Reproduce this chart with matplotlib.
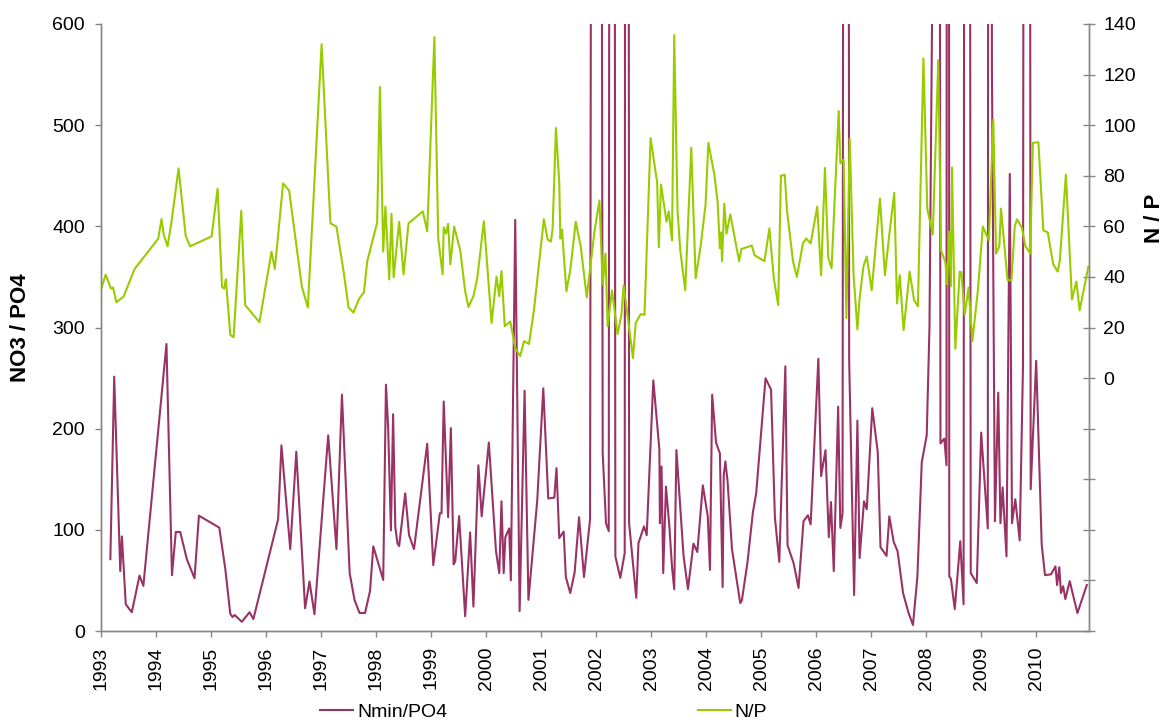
import matplotlib
matplotlib.use('Agg')
import matplotlib.pyplot as plt
from matplotlib.ticker import FixedLocator, FuncFormatter

plt.rcParams['font.family'] = ['Liberation Sans', 'DejaVu Sans']

# N/P ratio (right axis), decimal year
np_years = [1993.00, 1993.085, 1993.18, 1993.22, 1993.28, 1993.41, 1993.61, 1994.04, 1994.10, 1994.14,
            1994.21, 1994.28, 1994.41, 1994.54, 1994.62, 1995.01, 1995.12, 1995.20, 1995.24, 1995.27,
            1995.35, 1995.41, 1995.55, 1995.62, 1995.88, 1996.10, 1996.16, 1996.31, 1996.42, 1996.65,
            1996.76, 1997.01, 1997.17, 1997.28, 1997.41, 1997.50, 1997.59, 1997.69, 1997.78, 1997.84,
            1998.02, 1998.07, 1998.13, 1998.17, 1998.24, 1998.28, 1998.32, 1998.42, 1998.50, 1998.59,
            1998.85, 1998.93, 1999.06, 1999.13, 1999.21, 1999.23, 1999.27, 1999.31, 1999.35, 1999.42,
            1999.53, 1999.62, 1999.68, 1999.77, 1999.84, 1999.96, 2000.10, 2000.19, 2000.24, 2000.28,
            2000.34, 2000.44, 2000.53, 2000.62, 2000.69, 2000.78, 2000.87, 2001.05, 2001.12, 2001.18,
            2001.21, 2001.27, 2001.33, 2001.35, 2001.38, 2001.46, 2001.53, 2001.63, 2001.72, 2001.83,
            2001.97, 2002.06, 2002.12, 2002.17, 2002.21, 2002.29, 2002.39, 2002.46, 2002.50, 2002.56,
            2002.67, 2002.72, 2002.81, 2002.88, 2002.99, 2003.11, 2003.14, 2003.18, 2003.28, 2003.32,
            2003.38, 2003.42, 2003.48, 2003.53, 2003.62, 2003.73, 2003.81, 2003.90, 2003.99, 2004.04,
            2004.15, 2004.21, 2004.25, 2004.27, 2004.29, 2004.33, 2004.37, 2004.44, 2004.60, 2004.64,
            2004.83, 2004.88, 2005.06, 2005.15, 2005.23, 2005.31, 2005.36, 2005.43, 2005.47, 2005.58,
            2005.65, 2005.76, 2005.82, 2005.90, 2006.02, 2006.09, 2006.16, 2006.22, 2006.28, 2006.41,
            2006.44, 2006.50, 2006.55, 2006.61, 2006.68, 2006.75, 2006.79, 2006.86, 2006.92, 2007.01,
            2007.16, 2007.25, 2007.33, 2007.42, 2007.47, 2007.52, 2007.59, 2007.70, 2007.78, 2007.85,
            2007.95, 2008.02, 2008.12, 2008.22, 2008.27, 2008.35, 2008.38, 2008.42, 2008.45, 2008.47,
            2008.53, 2008.61, 2008.64, 2008.70, 2008.77, 2008.84, 2008.94, 2009.03, 2009.14, 2009.22,
            2009.27, 2009.33, 2009.36, 2009.48, 2009.55, 2009.61, 2009.65, 2009.74, 2009.80, 2009.89,
            2009.94, 2010.04, 2010.13, 2010.21, 2010.31, 2010.39, 2010.43, 2010.54, 2010.65, 2010.73,
            2010.79, 2010.95]
np_vals = [35.0, 40.9, 35.4, 35.8, 30.0, 32.2, 43.1, 55.1, 62.9, 56.8,
           52.1, 61.5, 82.9, 56.2, 52.1, 56.0, 74.9, 36.0, 35.4, 39.1,
           17.1, 16.1, 66.1, 28.9, 22.1, 50.0, 43.1, 77.0, 74.1, 36.3,
           27.9, 132.0, 61.2, 59.9, 42.1, 27.9, 25.9, 31.3, 33.9, 46.2,
           61.5, 115.1, 50.0, 67.8, 39.0, 65.0, 39.9, 61.8, 41.0, 61.2,
           65.9, 58.0, 134.8, 55.2, 41.0, 59.6, 57.1, 61.0, 45.0, 59.9,
           50.5, 34.3, 28.1, 32.4, 39.5, 62.0, 21.8, 40.1, 32.4, 42.3,
           20.5, 22.4, 11.9, 8.7, 14.6, 13.5, 26.8, 62.8, 54.7, 54.0,
           59.2, 98.9, 77.3, 55.2, 58.7, 34.3, 42.6, 61.8, 52.1, 31.9,
           58.0, 70.2, 37.1, 49.2, 20.5, 34.7, 17.4, 25.0, 36.6, 26.8,
           7.9, 21.8, 25.3, 25.0, 94.9, 77.3, 51.7, 76.5, 61.8, 65.9,
           54.4, 135.6, 66.2, 50.5, 34.7, 91.1, 39.5, 52.1, 68.6, 93.0,
           80.4, 69.4, 51.3, 57.6, 46.2, 68.9, 57.1, 64.7, 46.2, 51.0,
           52.4, 48.6, 46.2, 59.2, 39.5, 28.9, 80.0, 80.4, 66.2, 46.1,
           40.0, 53.3, 55.2, 53.2, 67.8, 40.6, 83.1, 47.6, 43.4, 105.6,
           85.0, 86.4, 23.7, 94.6, 41.0, 19.3, 31.6, 44.2, 48.1, 34.7,
           71.0, 40.7, 56.8, 73.3, 29.5, 40.7, 19.0, 42.1, 30.8, 28.4,
           126.4, 67.0, 56.8, 125.7, 50.5, 45.8, 37.1, 58.0, 36.3, 83.3,
           11.6, 42.1, 41.8, 25.0, 35.8, 14.6, 34.7, 59.9, 54.4, 102.2,
           49.2, 52.1, 67.0, 38.7, 38.7, 59.9, 62.8, 59.5, 52.4, 49.2,
           93.0, 93.3, 58.4, 57.6, 45.0, 42.1, 46.5, 80.4, 31.1, 38.2,
           26.8, 44.2]

# Nmin/PO4 ratio (left axis), decimal year; peaks above 600 run off the chart
nmin_years = [1993.17, 1993.24, 1993.35, 1993.38, 1993.45, 1993.56, 1993.70, 1993.77, 1994.19, 1994.29,
              1994.36, 1994.44, 1994.56, 1994.70, 1994.78, 1995.15, 1995.26, 1995.35, 1995.39, 1995.43,
              1995.56, 1995.70, 1995.77, 1996.22, 1996.28, 1996.44, 1996.55, 1996.71, 1996.79, 1996.88,
              1997.13, 1997.28, 1997.38, 1997.52, 1997.61, 1997.70, 1997.80, 1997.89, 1997.95, 1998.13,
              1998.18, 1998.22, 1998.27, 1998.31, 1998.35, 1998.39, 1998.42, 1998.53, 1998.60, 1998.69,
              1998.93, 1999.04, 1999.16, 1999.19, 1999.23, 1999.31, 1999.36, 1999.41, 1999.44, 1999.51,
              1999.62, 1999.71, 1999.77, 1999.86, 1999.92, 2000.05, 2000.18, 2000.24, 2000.28, 2000.32,
              2000.35, 2000.42, 2000.45, 2000.53, 2000.61, 2000.70, 2000.77, 2000.93, 2001.04, 2001.13,
              2001.24, 2001.28, 2001.33, 2001.41, 2001.45, 2001.53, 2001.61, 2001.69, 2001.78, 2001.89,
              2002.00, 2002.12, 2002.18, 2002.23, 2002.29, 2002.35, 2002.44, 2002.52, 2002.56, 2002.60,
              2002.73, 2002.77, 2002.87, 2002.92, 2003.04, 2003.15, 2003.16, 2003.19, 2003.22, 2003.27,
              2003.33, 2003.38, 2003.42, 2003.46, 2003.59, 2003.67, 2003.77, 2003.84, 2003.94, 2004.03,
              2004.07, 2004.11, 2004.18, 2004.25, 2004.30, 2004.32, 2004.35, 2004.39, 2004.47, 2004.62,
              2004.65, 2004.75, 2004.85, 2004.91, 2005.08, 2005.18, 2005.25, 2005.33, 2005.44, 2005.48,
              2005.59, 2005.68, 2005.77, 2005.85, 2005.90, 2006.04, 2006.09, 2006.17, 2006.23, 2006.27,
              2006.32, 2006.40, 2006.44, 2006.48, 2006.55, 2006.60, 2006.69, 2006.75, 2006.79, 2006.87,
              2006.92, 2007.02, 2007.12, 2007.17, 2007.28, 2007.33, 2007.41, 2007.48, 2007.58, 2007.68,
              2007.76, 2007.84, 2007.92, 2008.01, 2008.06, 2008.11, 2008.18, 2008.26, 2008.33, 2008.37,
              2008.395, 2008.42, 2008.45, 2008.52, 2008.62, 2008.68, 2008.74, 2008.81, 2008.92, 2009.00,
              2009.12, 2009.165, 2009.195, 2009.25, 2009.31, 2009.35, 2009.39, 2009.46, 2009.52, 2009.56,
              2009.62, 2009.70, 2009.76, 2009.83, 2009.90, 2010.00, 2010.10, 2010.16, 2010.27, 2010.35,
              2010.38, 2010.42, 2010.45, 2010.49, 2010.53, 2010.61, 2010.67, 2010.75, 2010.92]
nmin_vals = [71.0, 251.4, 59.2, 93.5, 26.4, 18.5, 54.8, 44.6, 283.7, 55.2,
             97.9, 97.9, 71.0, 52.1, 114.0, 102.2, 61.2, 17.0, 13.8, 15.8,
             9.1, 18.5, 11.8, 110.5, 183.5, 80.9, 177.2, 22.5, 48.9, 16.6,
             193.4, 80.9, 233.6, 57.2, 30.4, 17.8, 17.8, 39.5, 83.7, 50.5,
             243.5, 201.2, 99.4, 214.3, 102.6, 86.4, 84.0, 136.1, 94.7, 80.9,
             185.1, 65.1, 116.4, 116.4, 226.9, 112.5, 200.5, 65.9, 69.1, 113.6,
             14.6, 97.5, 24.1, 163.8, 113.3, 186.3, 78.9, 57.2, 128.2, 57.2,
             92.7, 101.4, 50.1, 406.4, 19.7, 237.5, 30.8, 129.0, 239.9, 131.0,
             131.8, 161.0, 91.9, 98.3, 53.3, 37.5, 58.0, 112.5, 53.3, 110.5,
             4000, 175.6, 106.5, 98.7, 4000, 73.8, 52.5, 77.0, 4000, 106.5,
             32.8, 86.8, 103.4, 94.7, 247.8, 179.5, 106.5, 162.6, 57.2, 142.8,
             104.6, 63.1, 41.4, 178.8, 73.8, 41.4, 86.4, 78.1, 144.0, 113.3,
             60.4, 233.6, 186.3, 175.6, 43.4, 153.9, 167.7, 148.0, 80.9, 27.6,
             30.4, 67.1, 117.2, 136.1, 249.8, 238.7, 112.5, 68.3, 261.6, 84.8,
             67.1, 42.6, 108.5, 114.4, 105.4, 269.1, 153.1, 178.8, 92.7, 127.5,
             59.2, 221.8, 101.8, 116.4, 4000, 268.0, 35.5, 208.0, 72.2, 128.2,
             120.4, 220.2, 176.8, 82.9, 74.2, 113.3, 88.0, 78.9, 37.5, 17.8,
             5.9, 53.3, 166.9, 193.4, 300.0, 620.0, 4000, 185.5, 190.2, 163.8,
             4000, 54.1, 51.3, 21.7, 88.8, 26.4, 4000, 57.2, 47.4, 196.1,
             101.4, 4000, 560.0, 108.5, 235.6, 106.5, 142.0, 73.8, 451.8, 106.5,
             130.2, 89.6, 262.0, 4000, 140.1, 267.1, 85.6, 55.2, 56.0, 63.9,
             45.4, 63.1, 37.5, 44.2, 31.6, 49.3, 35.5, 17.8, 45.4]

year_ticks = list(range(1993, 2011))
left_ticks = [0, 100, 200, 300, 400, 500, 600]
right_ticks = list(range(-100, 141, 20))

purple = '#993366'
green = '#99CC00'
spine_col = '#868686'

fig = plt.figure(figsize=(11.7, 7.22), dpi=100)
ax = fig.add_axes([101/1170, 1 - 631/722, 988/1170, 607/722])
ax2 = ax.twinx()

l1, = ax.plot(nmin_years, nmin_vals, color=purple, lw=1.5, label='Nmin/PO4')
l2, = ax2.plot(np_years, np_vals, color=green, lw=1.5, label='N/P')

ax.set_xlim(1993, 2010.96)
ax.set_ylim(0, 600)
ax2.set_ylim(-100, 140)

ax.set_xticks(year_ticks)
ax.set_xticklabels([str(y) for y in year_ticks], rotation=90, fontsize=14)
ax.set_yticks(left_ticks)
ax.set_yticklabels([str(v) for v in left_ticks], fontsize=14)
ax2.yaxis.set_major_locator(FixedLocator(right_ticks))
ax2.yaxis.set_major_formatter(FuncFormatter(lambda v, p: '' if v < 0 else '%d' % v))
ax2.tick_params(axis='y', labelsize=14, direction='inout', length=8.5, width=1, color=spine_col, pad=6)
ax.tick_params(axis='x', direction='out', length=4, width=1, color=spine_col, pad=7)
ax.tick_params(axis='y', direction='out', length=4.5, width=1, color=spine_col, pad=7)

for a in (ax, ax2):
    a.spines['top'].set_visible(False)
    for s in ('left', 'right', 'bottom'):
        a.spines[s].set_color(spine_col)
        a.spines[s].set_linewidth(1.0)

ax.set_ylabel('NO3 / PO4', fontsize=16, fontweight='bold')
ax.yaxis.set_label_coords(-0.071, 0.5)
ax2.set_ylabel('N / P', fontsize=16, fontweight='bold', rotation=90)
ax2.yaxis.set_label_coords(1.056, 0.68)

fig.legend([l1, l2], ['Nmin/PO4', 'N/P'], loc='center left',
           bbox_to_anchor=(320/1170, 10/722), ncol=2, frameon=False,
           handlelength=1.7, handletextpad=0.2, columnspacing=12.9,
           borderpad=0, borderaxespad=0, fontsize=14)

fig.savefig('out.png', dpi=100)
